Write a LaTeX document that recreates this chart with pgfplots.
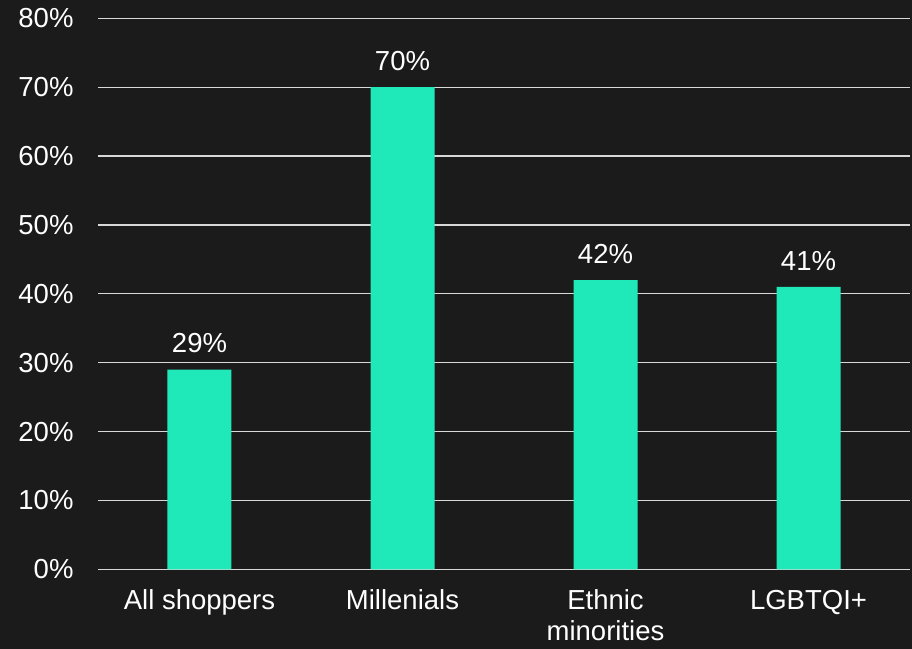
\documentclass[border=0pt]{standalone}
\usepackage{pgfplots}
\pgfplotsset{compat=1.18}
\usepackage{fontspec}
\setmainfont{Liberation Sans}
\definecolor{bg}{HTML}{1B1B1B}
\definecolor{bar}{HTML}{1FE9B8}
\definecolor{grid}{HTML}{D8D8D8}
\begin{document}
\begin{tikzpicture}
\path[use as bounding box, fill=bg] (-98bp,-79.7bp) rectangle (814bp,569.3bp);
\begin{axis}[
  at={(0,0)}, anchor=south west,
  scale only axis, width=812bp, height=551bp,
  xmin=-0.5, xmax=3.5, ymin=0, ymax=80,
  xtick={0,1,2,3},
  xticklabels={All shoppers, Millenials, {Ethnic\\minorities}, LGBTQI+},
  ytick={0,10,...,80},
  yticklabel={\pgfmathprintnumber{\tick}\%},
  axis line style={draw=none},
  major tick length=0,
  ymajorgrids,
  grid style={draw=grid, line width=1.2bp},
  font=\fontsize{27.5bp}{31bp}\selectfont,
  every tick label/.append style={text=white},
  xticklabel style={align=center, anchor=north, yshift=-17bp},
  yticklabel style={anchor=east, xshift=-21bp},
  /pgf/number format/assume math mode=true,
  nodes near coords={\pgfmathprintnumber{\pgfplotspointmeta}\%},
  nodes near coords style={text=white, anchor=south, yshift=13bp},
]
\addplot[ybar, bar width=64bp, fill=bar, draw=none] coordinates {(0,29) (1,70) (2,42) (3,41)};
\end{axis}
\end{tikzpicture}
\end{document}
